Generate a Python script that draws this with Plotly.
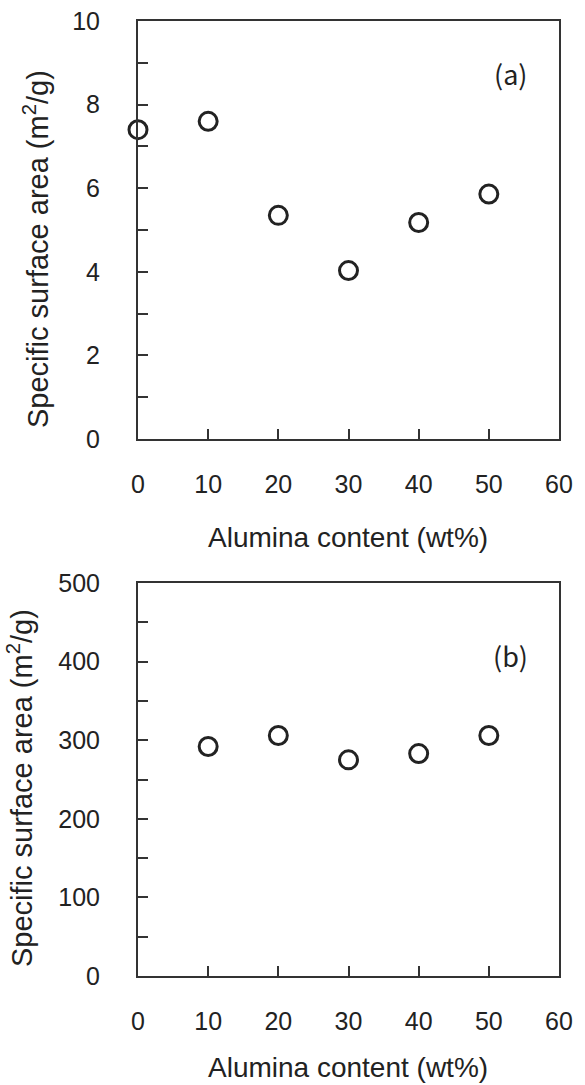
import plotly.graph_objects as go

# Data
alumina_a = [0, 10, 20, 30, 40, 50]
ssa_a = [7.4, 7.6, 5.35, 4.03, 5.18, 5.86]
alumina_b = [10, 20, 30, 40, 50]
ssa_b = [292, 306, 275, 283, 306]

x_ticks = [0, 10, 20, 30, 40, 50, 60]
y_ticks_a = [0, 2, 4, 6, 8, 10]
y_ticks_b = [0, 100, 200, 300, 400, 500]

W, H = 585, 1085
FONT = "Liberation Sans, Arial, sans-serif"
INK = "#222222"

def px_x(p):
    return p / W

def px_y(p):
    return 1 - p / H

fig = go.Figure()
marker = dict(symbol="circle-open", size=18, color=INK, line=dict(width=3, color=INK))
fig.add_trace(go.Scatter(x=alumina_a, y=ssa_a, mode="markers", marker=marker,
                         xaxis="x", yaxis="y", cliponaxis=False, showlegend=False))
fig.add_trace(go.Scatter(x=alumina_b, y=ssa_b, mode="markers", marker=marker,
                         xaxis="x2", yaxis="y2", cliponaxis=False, showlegend=False))

xdom = [px_x(138), px_x(559)]
common_axis = dict(showline=True, linewidth=2, linecolor="#333333", mirror=True,
                   showgrid=False, zeroline=False, ticks="inside", ticklen=10,
                   tickwidth=2, tickcolor="#333333", automargin=False,
                   ticklabeloverflow="allow",
                   tickfont=dict(family=FONT, size=25, color=INK))
minor_style = dict(ticks="inside", ticklen=10, tickwidth=2, tickcolor="#333333")

fig.update_layout(
    width=W, height=H, margin=dict(l=0, r=0, t=0, b=0),
    paper_bgcolor="white", plot_bgcolor="white",
    xaxis=dict(domain=xdom, range=[0, 60], tickvals=x_ticks, anchor="y",
               ticklabelstandoff=22, **common_axis),
    yaxis=dict(domain=[px_y(439), px_y(21)], range=[0, 10], tickvals=y_ticks_a, anchor="x",
               minor=dict(dtick=1, **minor_style), ticklabelstandoff=31, **common_axis),
    xaxis2=dict(domain=xdom, range=[0, 60], tickvals=x_ticks, anchor="y2",
                ticklabelstandoff=22, **common_axis),
    yaxis2=dict(domain=[px_y(976), px_y(583)], range=[0, 500], tickvals=y_ticks_b, anchor="x2",
                minor=dict(dtick=50, **minor_style), ticklabelstandoff=31, **common_axis),
)

ytitle = "Specific surface area (m<sup>2</sup>/g)"
xtitle = "Alumina content (wt%)"
ytitle_font = dict(family=FONT, size=29, color=INK)
xtitle_font = dict(family=FONT, size=28, color=INK)
annots = [
    dict(text=ytitle, x=px_x(36), y=px_y(249), textangle=-90, font=ytitle_font),
    dict(text=ytitle, x=px_x(20), y=px_y(788), textangle=-90, font=ytitle_font),
    dict(text=xtitle, x=px_x(348), y=px_y(537), font=xtitle_font),
    dict(text=xtitle, x=px_x(348), y=px_y(1067), font=xtitle_font),
]
for a in annots:
    fig.add_annotation(xref="paper", yref="paper", xanchor="center", yanchor="middle",
                       showarrow=False, **a)

label_font = dict(family="Noto Sans CJK JP, " + FONT, size=27, color=INK)
fig.add_annotation(xref="paper", yref="paper", x=px_x(510), y=px_y(73), text="(a)",
                   showarrow=False, font=label_font, xanchor="center", yanchor="middle")
fig.add_annotation(xref="paper", yref="paper", x=px_x(510), y=px_y(655), text="(b)",
                   showarrow=False, font=label_font, xanchor="center", yanchor="middle")

fig.write_html("out.html", config={"displayModeBar": False},
               post_script="document.body.style.margin='0';")
